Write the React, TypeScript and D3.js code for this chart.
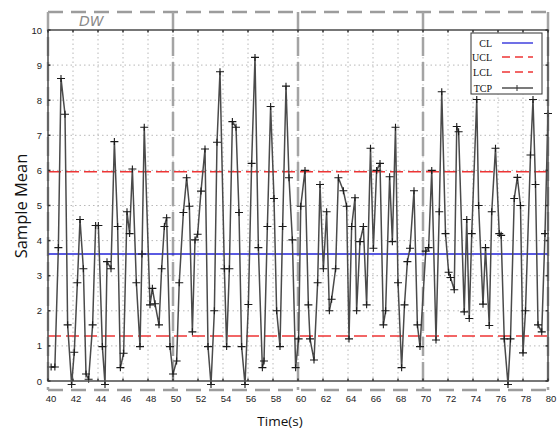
import React from 'react';
import * as d3 from 'd3';

const timeSeconds: number[] = [
  40.25, 40.55, 40.83, 41.04, 41.36, 41.57, 41.89, 42.1, 42.35, 42.56, 42.83, 43.04, 43.25, 43.57, 43.81, 44.03,
  44.35, 44.56, 44.72, 45.04, 45.31, 45.57, 45.79, 46.05, 46.32, 46.53, 46.75, 47.07, 47.36, 47.52, 47.7,
  48.16, 48.35, 48.56, 48.88, 49.09, 49.31, 49.49, 49.76, 50.0, 50.29, 50.5, 50.83, 51.09, 51.31, 51.55,
  51.76, 51.97, 52.24, 52.56, 52.8, 53.04, 53.31, 53.52, 53.76, 54.11, 54.29, 54.51, 54.75, 55.04, 55.28,
  55.49, 55.76, 56.03, 56.29, 56.56, 56.83, 57.15, 57.28, 57.55, 57.81, 58.08, 58.29, 58.56, 58.77, 59.04,
  59.28, 59.55, 59.81, 60.05, 60.22, 60.56, 60.83, 60.96, 61.28, 61.57, 61.76, 62.03, 62.29, 62.51, 62.69,
  63.01, 63.23, 63.63, 63.89, 64.08, 64.29, 64.56, 64.69, 64.96, 65.23, 65.49, 65.8, 66.03, 66.29, 66.56,
  66.83, 67.01, 67.33, 67.55, 67.8, 68.0, 68.29, 68.52, 68.75, 68.96, 69.28, 69.55, 69.76, 70.22, 70.45,
  70.7, 71.04, 71.3, 71.5, 71.8, 72.05, 72.2, 72.5, 72.7, 72.85, 73.3, 73.5, 73.7, 73.9, 74.3, 74.45, 74.8,
  75.0, 75.3, 75.5, 75.8, 76.1, 76.25, 76.5, 76.8, 77.0, 77.3, 77.55, 77.8, 78.0, 78.2, 78.6, 78.8, 79.0,
  79.2, 79.5, 79.76, 80.0,
];

const sampleMeans: number[] = [
  0.4, 0.4, 3.8, 8.62, 7.6, 1.6, -0.1, 0.82, 2.8, 4.6, 3.2, 0.2, 0.05, 1.6, 4.43, 4.43,
  0.98, -0.1, 3.4, 3.2, 6.82, 4.4, 0.38, 0.79, 4.82, 4.2, 6.04, 2.8, 0.98, 3.62, 7.23,
  2.17, 2.64, 2.2, 1.6, 3.2, 4.4, 4.65, 0.98, 0.2, 0.57, 2.8, 4.8, 5.79, 4.98, 1.4,
  4.02, 4.18, 5.41, 6.61, 0.98, -0.1, 2.0, 6.8, 8.81, 3.2, 0.98, 3.2, 7.39, 7.23, 4.8,
  0.98, -0.1, 2.18, 6.2, 9.22, 3.8, 0.38, 0.57, 4.4, 7.82, 5.2, 2.0, 0.98, 4.4, 8.4,
  5.79, 4.02, 0.38, 1.2, 4.98, 6.0, 2.17, 1.2, 0.6, 2.8, 5.6, 3.2, 4.82, 2.0, 2.33,
  3.2, 5.79, 5.42, 4.98, 1.2, 4.4, 5.22, 2.0, 3.97, 4.4, 2.17, 6.63, 3.78, 6.0, 6.2,
  1.6, 2.0, 5.82, 3.97, 7.23, 2.8, 0.38, 2.17, 3.4, 3.78, 5.42, 1.6, 0.98, 3.7, 3.8,
  6.0, 1.17, 4.82, 8.24, 4.2, 3.1, 2.95, 2.6, 7.25, 7.1, 1.97, 4.6, 1.78, 4.2, 8.02, 5.0, 2.19,
  3.8, 1.58, 4.82, 6.63, 4.2, 4.15, 1.2, -0.1, 1.2, 5.2, 5.8, 5.0, 0.8, 2.0, 6.44, 8.02, 5.6,
  1.6, 1.4, 4.2, 7.62,
];

const centerLine = 3.62;
const upperLimit = 5.96;
const lowerLimit = 1.28;
const xTickValues = [40, 42, 44, 46, 48, 50, 52, 54, 56, 58, 60, 62, 64, 66, 68, 70, 72, 74, 76, 78, 80];
const yTickValues = [0, 1, 2, 3, 4, 5, 6, 7, 8, 9, 10];
const windowBounds = [40, 50, 60, 70, 80];
const legendLabels = ['CL', 'UCL', 'LCL', 'TCP'];
const windowLabel = 'DW';
const xTitle = 'Time(s)';
const yTitle = 'Sample Mean';

export default function App() {
  const W = 558;
  const H = 431;
  const x = d3.scaleLinear().domain([40, 80]).range([48, 548]);
  const y = d3.scaleLinear().domain([0, 10]).range([381, 30]);
  const x0 = x(40), x1 = x(80), y0 = y(0), y1 = y(10);

  const tcpPath = d3
    .line<number>()
    .x((_, i) => x(timeSeconds[i]))
    .y((d) => y(d))(sampleMeans) || '';

  const topDash = 12;
  const botDash = 390;
  const tickFont = '"Liberation Sans", Arial, sans-serif';

  const legendX = 471, legendY = 33, legendW = 71, legendH = 61;
  const legendRows = [43, 57, 72, 88];
  const legendColors = ['#2323d8', '#ee3535', '#ee3535', '#333'];

  return (
    <svg width={W} height={H} style={{ position: 'absolute', left: 0, top: 0, background: '#fff' }}>
      <rect x={0} y={0} width={W} height={H} fill="#fff" />
      {/* grid */}
      {xTickValues.filter((v) => v > 40 && v < 80).map((v) => (
        <line key={'gx' + v} x1={x(v)} x2={x(v)} y1={y1} y2={y0} stroke="#b8b8b8" strokeWidth={1} strokeDasharray="1.5,3" />
      ))}
      {yTickValues.filter((v) => v > 0 && v < 10).map((v) => (
        <line key={'gy' + v} x1={x0} x2={x1} y1={y(v)} y2={y(v)} stroke="#b8b8b8" strokeWidth={1} strokeDasharray="1.5,3" />
      ))}
      {/* window dashed frame */}
      <line x1={x0} x2={x1} y1={topDash} y2={topDash} stroke="#9c9c9c" strokeWidth={2.5} strokeDasharray="15,8" />
      <line x1={x0} x2={x1} y1={botDash} y2={botDash} stroke="#9c9c9c" strokeWidth={2.5} strokeDasharray="15,8" />
      {windowBounds.map((v) => (
        <line key={'wb' + v} x1={x(v)} x2={x(v)} y1={topDash} y2={botDash} stroke="#a4a4a4" strokeWidth={2.5} strokeDasharray="19,6" />
      ))}
      {/* control lines */}
      <line x1={x0} x2={x1} y1={y(centerLine)} y2={y(centerLine)} stroke="#2323d8" strokeWidth={1.6} />
      <line x1={x0} x2={x1} y1={y(upperLimit)} y2={y(upperLimit)} stroke="#ee3535" strokeWidth={1.6} strokeDasharray="13,5" />
      <line x1={x0} x2={x1} y1={y(lowerLimit)} y2={y(lowerLimit)} stroke="#ee3535" strokeWidth={1.6} strokeDasharray="13,5" />
      {/* TCP */}
      <path d={tcpPath} fill="none" stroke="#4a4a4a" strokeWidth={1.5} strokeLinejoin="round" />
      {sampleMeans.map((v, i) => {
        const cx = x(timeSeconds[i]);
        const cy = y(v);
        return (
          <path key={'m' + i} d={`M${cx - 4},${cy}h8M${cx},${cy - 3.5}v7`} stroke="#1a1a1a" strokeWidth={1.1} fill="none" />
        );
      })}
      {/* frame */}
      <rect x={x0} y={y1} width={x1 - x0} height={y0 - y1} fill="none" stroke="#555" strokeWidth={1.6} />
      {/* ticks */}
      {xTickValues.map((v) => (
        <g key={'tx' + v}>
          <line x1={x(v)} x2={x(v)} y1={y0} y2={y0 - 2.5} stroke="#333" strokeWidth={1.5} />
          <line x1={x(v)} x2={x(v)} y1={y1} y2={y1 + 2.5} stroke="#333" strokeWidth={1.5} />
          <text x={x(v) + 3} y={402} fontSize={9.5} fontFamily={tickFont} textAnchor="middle" fill="#222">{v}</text>
        </g>
      ))}
      {yTickValues.map((v) => (
        <g key={'ty' + v}>
          <line x1={x0} x2={x0 + 2.5} y1={y(v)} y2={y(v)} stroke="#333" strokeWidth={1.5} />
          <line x1={x1} x2={x1 - 2.5} y1={y(v)} y2={y(v)} stroke="#333" strokeWidth={1.5} />
          <text x={42} y={y(v) + 3.5} fontSize={9.5} fontFamily={tickFont} textAnchor="end" fill="#222">{v}</text>
        </g>
      ))}
      {/* DW label */}
      <text x={79} y={26} fontSize={14} fontStyle="italic" fontFamily='"DejaVu Sans", sans-serif' fill="#8a8a8a">{windowLabel}</text>
      {/* legend */}
      <rect x={legendX} y={legendY} width={legendW} height={legendH} fill="#fff" stroke="#333" strokeWidth={1} />
      {legendLabels.map((lab, i) => {
        const ly = legendRows[i];
        return (
          <g key={'lg' + lab}>
            <text x={492} y={ly + 3.5} fontSize={10} fontFamily='"Liberation Serif", serif' textAnchor="end" fill="#111">{lab}</text>
            <line x1={502} x2={533} y1={ly} y2={ly} stroke={legendColors[i]} strokeWidth={1.3}
              strokeDasharray={lab === 'UCL' || lab === 'LCL' ? '8,5' : undefined} />
            {lab === 'TCP' && <path d={`M517,${ly - 3}v6`} stroke="#333" strokeWidth={1} />}
          </g>
        );
      })}
      {/* axis titles */}
      <text x={280} y={426} fontSize={13.5} fontFamily='"Open Sans", "Noto Sans", sans-serif' textAnchor="middle" fill="#111">{xTitle}</text>
      <text transform="translate(27,206) rotate(-90)" fontSize={16.5} fontFamily='"Open Sans", "Noto Sans", sans-serif' textAnchor="middle" fill="#111">{yTitle}</text>
    </svg>
  );
}
